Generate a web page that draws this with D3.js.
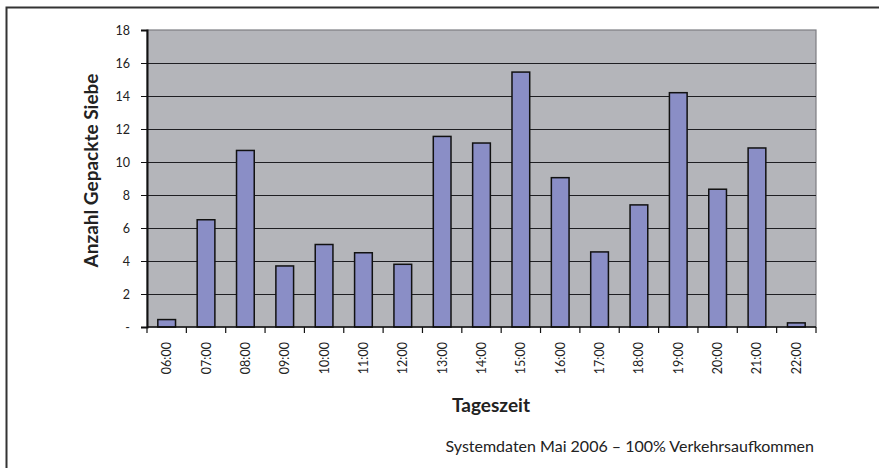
<!DOCTYPE html>
<html>
<head>
<meta charset="utf-8">
<script src="https://cdn.jsdelivr.net/npm/d3@7"></script>
<style>
  html, body { margin: 0; padding: 0; background: #fff; }
  svg { display: block; }
  text { font-family: Lato, "Open Sans", sans-serif; fill: #222; }
</style>
</head>
<body>
<svg id="chart" width="879" height="468"></svg>
<script>
// Hourly counts of packed sieves
const hours = ["06:00","07:00","08:00","09:00","10:00","11:00","12:00","13:00","14:00",
               "15:00","16:00","17:00","18:00","19:00","20:00","21:00","22:00"];
const sieves = [0.45, 6.5, 10.7, 3.7, 5.0, 4.5, 3.8, 11.55, 11.15,
                15.45, 9.05, 4.55, 7.4, 14.2, 8.35, 10.85, 0.25];
const yTicks = [0, 2, 4, 6, 8, 10, 12, 14, 16, 18];

const svg = d3.select("#chart");

// outer frame (top and left edges)
svg.append("path")
  .attr("d", "M6.5,468 V7.5 H879")
  .attr("fill", "none").attr("stroke", "#333").attr("stroke-width", 2);

const m = { left: 147, right: 816, top: 30, bottom: 327 };

const x = d3.scaleBand().domain(hours).range([m.left, m.right]).paddingInner(0.55).paddingOuter(0.275);
const xb = d3.scaleBand().domain(hours).range([m.left, m.right]);
const y = d3.scaleLinear().domain([0, 18]).range([m.bottom, m.top]);

// plot background
svg.append("rect")
  .attr("x", m.left).attr("y", m.top)
  .attr("width", m.right - m.left).attr("height", m.bottom - m.top)
  .attr("fill", "#b4b5ba").attr("stroke", "#7d7e83").attr("stroke-width", 1.2);

// gridlines
svg.append("g").selectAll("line").data(yTicks.filter(d => d > 0 && d < 18)).join("line")
  .attr("x1", m.left).attr("x2", m.right)
  .attr("y1", d => Math.round(y(d)) + 0.5).attr("y2", d => Math.round(y(d)) + 0.5)
  .attr("stroke", "#1e1e22").attr("stroke-width", 1.2);

// bars
svg.append("g").selectAll("rect").data(hours).join("rect")
  .attr("x", d => x(d))
  .attr("width", x.bandwidth())
  .attr("y", (d, i) => y(sieves[i]))
  .attr("height", (d, i) => y(0) - y(sieves[i]))
  .attr("fill", "#8a8ec6").attr("stroke", "#111").attr("stroke-width", 1.5);

// y axis
const yAxis = d3.axisLeft(y).tickValues(yTicks).tickSize(6).tickPadding(11)
  .tickFormat(d => d === 0 ? "-" : d);
const gy = svg.append("g").attr("transform", `translate(${m.left},0)`).call(yAxis);
gy.select(".domain").attr("stroke", "#111").attr("stroke-width", 2);
gy.selectAll(".tick line").attr("stroke", "#111");
gy.selectAll(".tick text").attr("font-size", 12.5).attr("fill", "#222")
  .attr("font-family", "Lato, sans-serif");

// x axis: ticks on category boundaries
const gx = svg.append("g").attr("transform", `translate(0,${m.bottom})`);
gx.append("line").attr("x1", m.left).attr("x2", m.right).attr("y1", 0).attr("y2", 0)
  .attr("stroke", "#111").attr("stroke-width", 1.5);
gx.selectAll("line.tk").data(hours.concat(["end"])).join("line").attr("class", "tk")
  .attr("x1", (d, i) => i < hours.length ? xb(d) : m.right)
  .attr("x2", (d, i) => i < hours.length ? xb(d) : m.right)
  .attr("y1", 0).attr("y2", 6).attr("stroke", "#111").attr("stroke-width", 1.2);
gx.selectAll("text").data(hours).join("text")
  .attr("transform", d => `translate(${xb(d) + xb.bandwidth() / 2 + 4.5},15) rotate(-90)`)
  .attr("text-anchor", "end")
  .attr("font-size", 12.5)
  .text(d => d);

// axis titles
svg.append("text")
  .attr("transform", `translate(97.5,170.5) rotate(-90)`)
  .attr("text-anchor", "middle").attr("font-weight", "bold").attr("font-size", 19)
  .text("Anzahl Gepackte Siebe");

svg.append("text")
  .attr("x", 491).attr("y", 412)
  .attr("text-anchor", "middle").attr("font-weight", "bold").attr("font-size", 19)
  .text("Tageszeit");

svg.append("text")
  .attr("x", 814).attr("y", 452)
  .attr("text-anchor", "end").attr("font-size", 16)
  .text("Systemdaten Mai 2006 – 100% Verkehrsaufkommen");
</script>
</body>
</html>
